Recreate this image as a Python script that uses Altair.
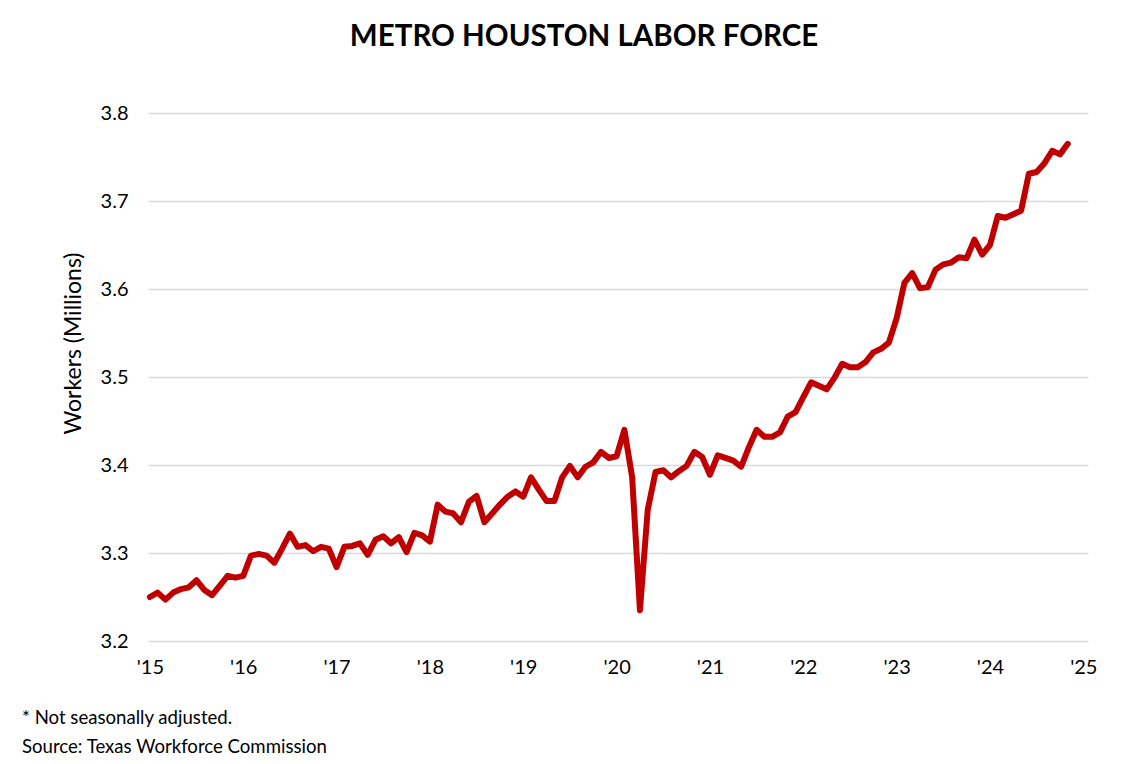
import altair as alt
import pandas as pd

title_text = "METRO HOUSTON LABOR FORCE"
y_title = "Workers (Millions)"
footnote_1 = "* Not seasonally adjusted."
footnote_2 = "Source: Texas Workforce Commission"

start_year = 2015
# Monthly labor force (millions), Jan 2015 - Nov 2024
labor_force = [
    3.250, 3.255, 3.247, 3.255, 3.259, 3.261, 3.269, 3.258, 3.252, 3.263, 3.274, 3.272,
    3.274, 3.297, 3.299, 3.297, 3.289, 3.305, 3.322, 3.307, 3.309, 3.302, 3.307, 3.305,
    3.284, 3.307, 3.308, 3.311, 3.298, 3.315, 3.319, 3.311, 3.318, 3.301, 3.323, 3.320,
    3.313, 3.355, 3.347, 3.345, 3.335, 3.358, 3.365, 3.335, 3.345, 3.355, 3.364, 3.370,
    3.364, 3.386, 3.372, 3.359, 3.359, 3.386, 3.399, 3.386, 3.398, 3.403, 3.415, 3.408,
    3.410, 3.440, 3.386, 3.235, 3.349, 3.392, 3.394, 3.386, 3.393, 3.399, 3.415, 3.409,
    3.389, 3.411, 3.408, 3.405, 3.398, 3.420, 3.440, 3.432, 3.432, 3.437, 3.455, 3.460,
    3.477, 3.494, 3.490, 3.486, 3.499, 3.515, 3.511, 3.511, 3.517, 3.528, 3.532, 3.539,
    3.567, 3.607, 3.618, 3.601, 3.602, 3.622, 3.628, 3.630, 3.636, 3.635, 3.656, 3.639,
    3.650, 3.683, 3.681, 3.685, 3.689, 3.731, 3.733, 3.743, 3.757, 3.753, 3.765,
]
year_ticks = list(range(2015, 2026))
y_ticks = [3.2, 3.3, 3.4, 3.5, 3.6, 3.7, 3.8]

df = pd.DataFrame({
    "t": [start_year + i / 12 for i in range(len(labor_force))],
    "value": labor_force,
})

FONT = "Lato"

line = alt.Chart(df).mark_line(
    color="#C00000", strokeWidth=6, strokeJoin="round", strokeCap="round"
).encode(
    x=alt.X(
        "t:Q",
        scale=alt.Scale(domain=[2014.98, 2025.05], nice=False, zero=False),
        axis=alt.Axis(
            values=year_ticks,
            labelExpr="\"'\" + slice(toString(datum.value), 2)",
            grid=False, ticks=False, domain=False,
            labelFont=FONT, labelFontSize=20, labelColor="#000000",
            labelPadding=16, title=None,
        ),
    ),
    y=alt.Y(
        "value:Q",
        scale=alt.Scale(domain=[3.2, 3.8], nice=False, zero=False),
        axis=alt.Axis(
            values=y_ticks, format=".1f",
            grid=True, gridColor="#D9D9D9", gridWidth=1.5,
            ticks=False, domain=False,
            labelFont=FONT, labelFontSize=20, labelColor="#000000",
            labelPadding=20,
            title=y_title, titleFont=FONT, titleFontSize=23,
            titleFontWeight="normal", titleColor="#000000",
            titleX=-75, titleY=230, titleBaseline="middle", titleAngle=270,
        ),
    ),
)

note1 = alt.Chart(pd.DataFrame({"txt": [footnote_1]})).mark_text(
    align="left", baseline="middle", font=FONT, fontSize=18.6, color="#000000"
).encode(text="txt:N", x=alt.value(-126), y=alt.value(605))

note2 = alt.Chart(pd.DataFrame({"txt": [footnote_2]})).mark_text(
    align="left", baseline="middle", font=FONT, fontSize=18.6, color="#000000"
).encode(text="txt:N", x=alt.value(-126), y=alt.value(634))

chart = alt.layer(line, note1, note2).properties(
    width=940,
    height=528,
    title=alt.TitleParams(
        title_text, font=FONT, fontSize=29.5, fontWeight="bold",
        color="#000000", anchor="middle", dx=-34, offset=51,
    ),
    autosize=alt.AutoSizeParams(type="none"),
    padding={"left": 148, "top": 113, "right": 58, "bottom": 123},
    background="white",
).configure_view(stroke=None)

chart.save("out.html", embed_options={"renderer": "svg", "actions": False})
